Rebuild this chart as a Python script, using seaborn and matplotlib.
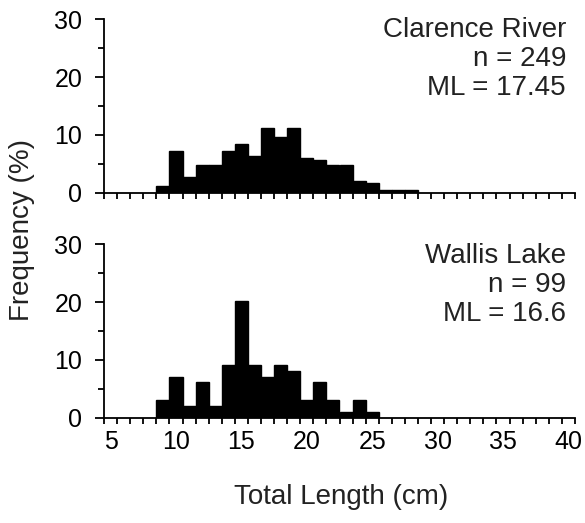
import numpy as np
import pandas as pd
import matplotlib
matplotlib.use("Agg")
import matplotlib.pyplot as plt
import seaborn as sns

# ---- data ----
clarence_lengths = [9, 10, 11, 12, 13, 14, 15, 16, 17, 18, 19, 20, 21, 22, 23, 24, 25, 26, 27, 28]
clarence_freq = [1.2, 7.2, 2.8, 4.8, 4.8, 7.2, 8.4, 6.4, 11.2, 9.6, 11.2, 6.0, 5.6, 4.8, 4.8, 2.0, 1.6, 0.4, 0.4, 0.4]
wallis_lengths = [9, 10, 11, 12, 13, 14, 15, 16, 17, 18, 19, 20, 21, 22, 23, 24, 25]
wallis_freq = [3.0, 7.1, 2.0, 6.1, 2.0, 9.1, 20.2, 9.1, 7.1, 9.1, 8.1, 3.0, 6.1, 3.0, 1.0, 3.0, 1.0]
x_tick_labels = [5, 10, 15, 20, 25, 30, 35, 40]
y_ticks = [0, 10, 20, 30]
panel_text = [["Clarence River", "n = 249", "ML = 17.45"],
              ["Wallis Lake", "n = 99", "ML = 16.6"]]

sns.set_style("ticks")
plt.rcParams['font.family'] = ['Liberation Sans', 'DejaVu Sans']
FS_TICK = 18
FS_TEXT = 20

W, H = 585, 523
fig = plt.figure(figsize=(W / 100, H / 100), dpi=100)

def px_axes(left, right, bottom_y, top_y):
    return fig.add_axes([left / W, 1 - bottom_y / H, (right - left) / W, (bottom_y - top_y) / H])

ax1 = px_axes(104, 575, 192.7, 19.3)
ax2 = px_axes(104, 575, 417.7, 244.3)

datasets = [(ax1, clarence_lengths, clarence_freq), (ax2, wallis_lengths, wallis_freq)]
for i, (ax, xs, ys) in enumerate(datasets):
    df = pd.DataFrame({"length": xs, "freq": ys})
    sns.barplot(data=df, x="length", y="freq", native_scale=True, color="black",
                saturation=1, width=1, errorbar=None, edgecolor="black", linewidth=1.0, ax=ax)
    ax.set_xlim(4.5, 40.5)
    ax.set_ylim(0, 30)
    ax.set_xlabel("")
    ax.set_ylabel("")
    sns.despine(ax=ax)
    for s in ["left", "bottom"]:
        ax.spines[s].set_linewidth(1.3)
        ax.spines[s].set_color("black")
    ax.set_yticks(y_ticks)
    ax.set_yticks([5, 15, 25], minor=True)
    ax.set_xticks(x_tick_labels)
    ax.set_xticks(np.arange(4.5, 41, 1), minor=True)
    ax.tick_params(axis="y", which="major", length=6.5, width=1.3, labelsize=FS_TICK, pad=9,
                   color="black", labelcolor="black")
    ax.tick_params(axis="y", which="minor", length=4.5, width=1.3, color="black")
    ax.tick_params(axis="x", which="major", length=0, labelsize=FS_TICK, pad=9, labelcolor="black")
    ax.tick_params(axis="x", which="minor", length=4.5, width=1.3, color="black")
    if i == 0:
        ax.tick_params(axis="x", which="major", labelbottom=False)
    ax.set_facecolor("white")
    ypos = [0.938, 0.772, 0.605] if i == 0 else [0.933, 0.765, 0.598]
    for t, yp in zip(panel_text[i], ypos):
        ax.text(0.981, yp, t, transform=ax.transAxes, ha="right", va="center", fontsize=FS_TEXT, color="#222222")

fig.text(22 / W, 1 - 230 / H, "Frequency (%)", rotation=90, ha="center", va="center", fontsize=FS_TEXT, color="#222222")
fig.text(341 / W, 1 - 497 / H, "Total Length (cm)", ha="center", va="center", fontsize=FS_TEXT, color="#222222")

fig.savefig("out.png", dpi=100, facecolor="white")
